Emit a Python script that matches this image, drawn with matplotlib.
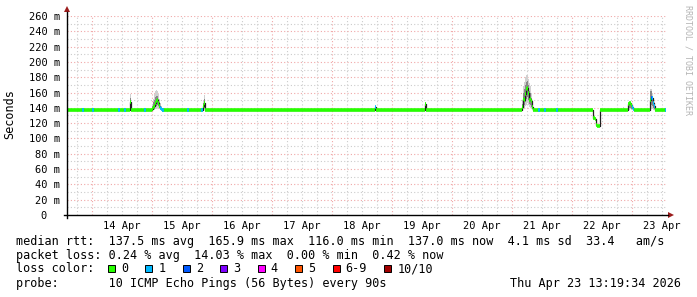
import matplotlib
matplotlib.use("Agg")
import matplotlib.pyplot as plt
from matplotlib.patches import Rectangle, Polygon
from matplotlib.lines import Line2D

# time axis in hours since 13 Apr 00:00, one rrd sample = 0.4 h
t_start, t_end, step = 14.0, 253.6, 0.4
base_rtt = 137.3

day_labels = ["14 Apr", "15 Apr", "16 Apr", "17 Apr", "18 Apr",
              "19 Apr", "20 Apr", "21 Apr", "22 Apr", "23 Apr"]
day_label_hours = [36, 60, 84, 108, 132, 156, 180, 204, 228, 252]
midnights = [24, 48, 72, 96, 120, 144, 168, 192, 216, 240]

# samples that differ from the flat baseline
evt_t = [39.2,
         48.0, 48.4, 48.8, 49.2, 49.6, 50.0, 50.4, 50.8, 51.2, 51.6,
         68.4, 68.8,
         137.2,
         157.2,
         196.0, 196.4, 196.8, 197.2, 197.6, 198.0, 198.4, 198.8, 199.2, 199.6, 200.0,
         224.4, 224.8, 225.2, 225.6, 226.0, 226.4, 226.8,
         236.4,
         238.4, 238.8, 239.2, 239.6, 240.0, 240.4,
         247.2, 247.6, 248.0, 248.4, 248.8]
evt_med = [147,
           139, 141, 142, 146, 149, 150, 146, 143, 140, 139,
           143, 146,
           141,
           145,
           141, 152, 150, 158, 165, 166, 160, 150, 152, 149, 141,
           127, 127, 126, 118, 116, 116, 116,
           137.3,
           145, 146, 146, 144, 141, 139,
           150, 153, 153, 146, 143]
evt_loss = [0,
            0, 0, 0, 0, 0, 0, 0, 0, 1, 1,
            0, 0,
            1,
            0,
            0, 0, 0, 0, 0, 0, 0, 0, 0, 0, 0,
            0, 0, 0, 0, 0, 0, 0,
            0,
            0, 0, 0, 0, 1, 1,
            0, 2, 1, 1, 1]
smoke_lo = [137,
            137, 137, 137, 138, 139, 140, 139, 138, 137, 137,
            137, 138,
            137,
            137,
            137, 138, 140, 142, 144, 146, 144, 141, 140, 138, 137,
            127, 127, 126, 118, 116, 116, 116,
            137,
            137, 137, 138, 137, 137, 137,
            137, 138, 138, 137, 137]
smoke_hi = [158,
            145, 152, 158, 162, 163, 162, 158, 152, 146, 142,
            150, 157,
            143,
            148,
            150, 168, 174, 180, 183, 183, 178, 172, 168, 160, 150,
            127, 127, 126, 118, 116, 116, 116,
            141,
            147, 148, 148, 146, 143, 141,
            165, 165, 160, 150, 147]
smoke_in_lo = [139,
               137, 138, 139, 141, 143, 144, 142, 140, 138, 137,
               138, 140,
               138,
               139,
               138, 142, 144, 148, 152, 154, 150, 145, 144, 141, 138,
               127, 127, 126, 118, 116, 116, 116,
               137,
               139, 140, 140, 139, 138, 137,
               140, 144, 143, 140, 138]
smoke_in_hi = [153,
               142, 147, 150, 154, 156, 156, 152, 147, 142, 140,
               146, 151,
               141,
               146,
               145, 160, 164, 170, 174, 175, 170, 162, 160, 153, 145,
               127, 127, 126, 118, 116, 116, 116,
               139,
               146, 147, 147, 145, 142, 140,
               162, 162, 156, 147, 144]

# baseline samples with 1/10 loss
blue_t = [20.0, 24.0, 34.4, 36.8, 44.8, 52.0, 62.0, 67.6,
          202.4, 204.8, 209.6, 253.0]

loss_colors = ["#26ff00", "#00b8ff", "#0059ff", "#7e00ff",
               "#ff00ff", "#ff5500", "#ff0000", "#a10000"]
loss_labels = ["0", "1", "2", "3", "4", "5", "6-9", "10/10"]

y_ticks = list(range(0, 261, 20))

W, H = 697, 297
mono = "DejaVu Sans Mono"


def px(x, y):
    return (x / W, 1 - y / H)


fig = plt.figure(figsize=(W / 100, H / 100), dpi=100)
fig.patch.set_facecolor("white")
ax = fig.add_axes([67 / W, (H - 215) / H, (666 - 67) / W, (215 - 16) / H])
ax.set_xlim(t_start, t_end)
ax.set_ylim(0, 260)
for s in ax.spines.values():
    s.set_visible(False)

# grid
dot = (0, (1, 2))
for v in range(10, 261, 10):
    if v % 20:
        ax.axhline(v, color="#cccccc", lw=0.8, ls=dot, zorder=0)
for h in range(18, 254, 6):
    if h % 24:
        ax.axvline(h, color="#cccccc", lw=0.8, ls=dot, zorder=0)
for v in y_ticks[1:]:
    ax.axhline(v, color="#f0a8a8", lw=0.8, ls=dot, zorder=0.5)
for h in midnights:
    ax.axvline(h, color="#f0a8a8", lw=0.8, ls=dot, zorder=0.5)

# smoke
for t, lo, hi, ilo, ihi in zip(evt_t, smoke_lo, smoke_hi, smoke_in_lo, smoke_in_hi):
    ax.bar(t, hi - lo, bottom=lo, width=step, align="edge",
           color="#d0d0d0", lw=0, zorder=1)
    ax.bar(t, ihi - ilo, bottom=ilo, width=step, align="edge",
           color="#888888", lw=0, zorder=1.1)

# median line: black step plus loss-coloured ticks
pts_t, pts_v = [], []
cur = t_start
for t, m, lc in zip(evt_t, evt_med, evt_loss):
    if t > cur + 1e-6:
        pts_t.append(cur)
        pts_v.append(base_rtt)
        ax.hlines(base_rtt, cur, t, color=loss_colors[0], lw=2.6, zorder=3)
    pts_t.append(t)
    pts_v.append(m)
    ax.hlines(m, t, t + step, color=loss_colors[lc], lw=2.6, zorder=3)
    cur = t + step
pts_t += [cur, t_end]
pts_v += [base_rtt, base_rtt]
ax.hlines(base_rtt, cur, t_end, color=loss_colors[0], lw=2.6, zorder=3)
ax.step(pts_t, pts_v, where="post", color="#202020", lw=0.9, zorder=2)
for t in blue_t:
    ax.hlines(base_rtt, t, t + step * 2, color=loss_colors[1], lw=2.6, zorder=3.1)

# ticks
ax.set_yticks(y_ticks)
ax.set_yticklabels(["0  " if v == 0 else "%d m" % v for v in y_ticks],
                   family=mono, fontsize=7.5)
ax.set_xticks(day_label_hours)
ax.set_xticklabels(day_labels, family=mono, fontsize=7.5)
ax.tick_params(length=0)
ax.tick_params(axis="x", pad=4)
ax.tick_params(axis="y", pad=5)

# axis lines with arrows
fig.add_artist(Line2D(*zip(px(64, 215), px(668, 215)), color="black", lw=1))
fig.add_artist(Line2D(*zip(px(67, 218), px(67, 12)), color="black", lw=1))
fig.add_artist(Polygon([px(668, 212), px(674, 215), px(668, 218)],
                       closed=True, color="#9b1c1c", lw=0))
fig.add_artist(Polygon([px(64, 12), px(67, 6), px(70, 12)],
                       closed=True, color="#9b1c1c", lw=0))

fig.text(*px(10, 114), "Seconds", rotation=90, family=mono, fontsize=8.5,
         ha="center", va="center")
fig.text(*px(688, 60), "RRDTOOL / TOBI OETIKER", rotation=270, family=mono,
         fontsize=6, color="#b4b4b4", ha="center", va="center")

# legend
cw = 7.13
rows = [
    "median rtt:  137.5 ms avg  165.9 ms max  116.0 ms min  137.0 ms now  4.1 ms sd  33.4   am/s",
    "packet loss: 0.24 % avg  14.03 % max  0.00 % min  0.42 % now",
]
fig.text(*px(16, 244.5), rows[0], family=mono, fontsize=8.5, va="baseline")
fig.text(*px(16, 258.5), rows[1], family=mono, fontsize=8.5, va="baseline")
fig.text(*px(16, 272.5), "loss color:", family=mono, fontsize=8.5, va="baseline")
x = 108
for col, lab in zip(loss_colors, loss_labels):
    x0, y0 = px(x, 272)
    fig.add_artist(Rectangle((x0, y0), 7 / W, 7 / H, facecolor=col,
                             edgecolor="black", lw=0.7))
    fig.text(*px(x + 13, 272.5), lab, family=mono, fontsize=8.5, va="baseline")
    x += cw * len(lab) + 30.3
fig.text(*px(16, 286.5), "probe:       10 ICMP Echo Pings (56 Bytes) every 90s",
         family=mono, fontsize=8.5, va="baseline")
fig.text(*px(681, 286.5), "Thu Apr 23 13:19:34 2026", family=mono,
         fontsize=8.5, va="baseline", ha="right")

fig.savefig("out.png", dpi=100)
